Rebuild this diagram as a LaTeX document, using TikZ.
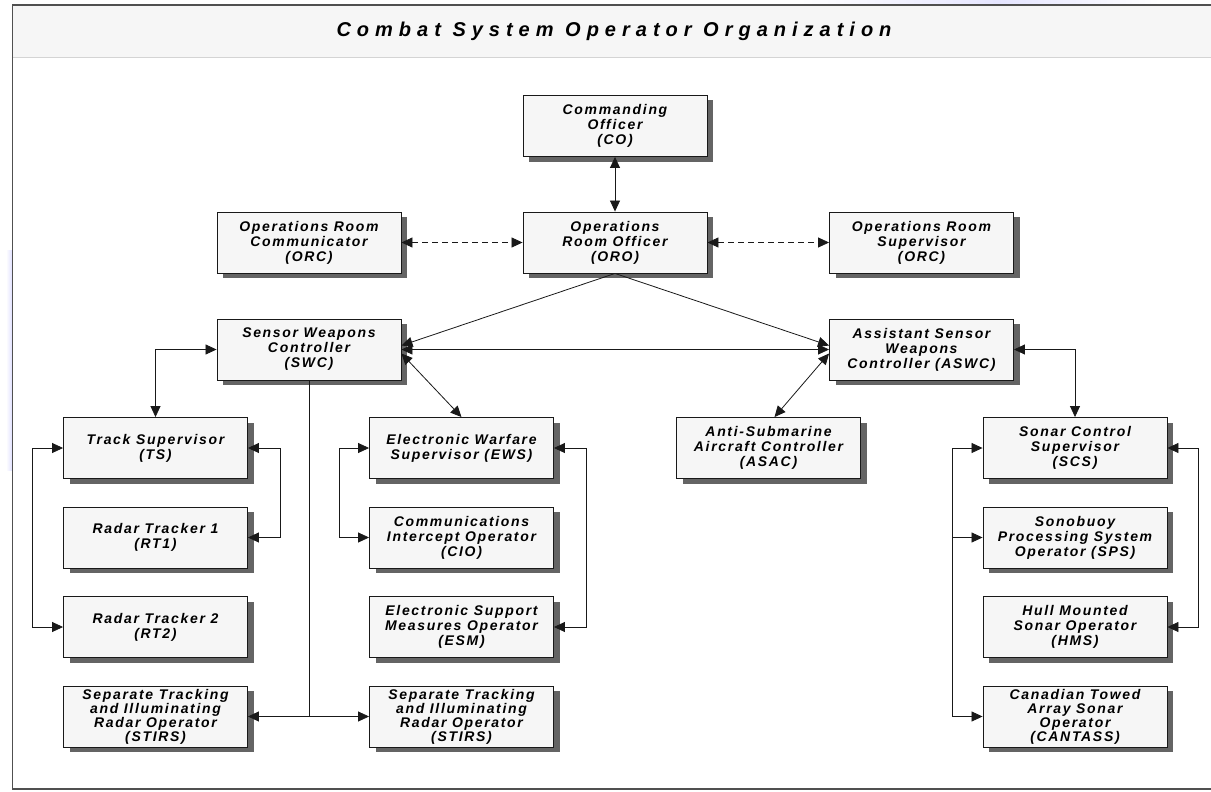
\documentclass[tikz,border=0pt]{standalone}
\usepackage{fontspec}
\setmainfont{Liberation Sans}
\newfontfamily\boxfont{Liberation Sans}[LetterSpace=12]
\newfontfamily\titlefont{Liberation Sans}[LetterSpace=30]
\usetikzlibrary{arrows.meta,shadows}
\definecolor{boxfill}{HTML}{F6F6F6}
\definecolor{shadowcol}{HTML}{646464}
\definecolor{framecol}{HTML}{505050}
\definecolor{titlebg}{HTML}{F6F6F6}
\definecolor{sepcol}{HTML}{D4D4D4}
\tikzset{
  orgbox/.style={draw=black!90, line width=0.9pt, fill=boxfill, minimum width=184pt, minimum height=61pt,
    inner sep=0pt, align=center, font=\boxfont\bfseries\itshape\fontsize{14}{15}\selectfont,
    general shadow={fill=shadowcol, shadow xshift=6pt, shadow yshift=-5pt}},
  tightbox/.style={orgbox, font=\boxfont\bfseries\itshape\fontsize{14}{14}\selectfont},
  arr/.style={line width=0.8pt, black!90, arrows={-Triangle[length=11pt,width=10pt]}},
  birr/.style={line width=0.8pt, black!90, arrows={Triangle[length=11pt,width=10pt]-Triangle[length=11pt,width=10pt]}}
}
\begin{document}
\begin{tikzpicture}[x=1pt,y=-1pt]
\useasboundingbox (0,0) rectangle (1211,792);
\fill[white] (0,0) rectangle (1211,792);
% faint decorations
\shade[left color=white, right color=blue!12] (6,250) rectangle (12,470);
\shade[left color=white, right color=blue!10] (800,0) rectangle (1000,5);
\shade[left color=blue!10, right color=white] (1000,0) rectangle (1160,5);
% title bar and frame
\fill[titlebg] (13,5) rectangle (1211,58);
\draw[sepcol, line width=1pt] (13,58) -- (1211,58);
\draw[framecol, line width=1.2pt] (1211,5) -- (12.5,5) -- (12.5,789) -- (1211,789);
\node[font=\titlefont\bfseries\itshape\fontsize{20}{24}\selectfont] (title) at (614,31) {Combat System Operator Organization};

% nodes
\node[orgbox] (co) at (615,126) {Commanding\\Officer\\(CO)};
\node[orgbox] (orc) at (309,242.5) {Operations Room\\Communicator\\(ORC)};
\node[orgbox] (oro) at (615,242.5) {Operations\\Room Officer\\(ORO)};
\node[orgbox] (ors) at (921.5,242.5) {Operations Room\\Supervisor\\(ORC)};
\node[orgbox] (swc) at (309,349.5) {Sensor Weapons\\Controller\\(SWC)};
\node[orgbox] (aswc) at (921.5,349.5) {Assistant Sensor\\Weapons\\Controller (ASWC)};
\node[orgbox] (ts) at (155.5,448) {Track Supervisor\\(TS)};
\node[orgbox] (rt1) at (155.5,537.5) {Radar Tracker 1\\(RT1)};
\node[orgbox] (rt2) at (155.5,627) {Radar Tracker 2\\(RT2)};
\node[tightbox] (stirsa) at (155.5,716.5) {Separate Tracking\\and Illuminating\\Radar Operator\\(STIRS)};
\node[orgbox] (ews) at (461.5,448) {Electronic Warfare\\Supervisor (EWS)};
\node[orgbox] (cio) at (461.5,537.5) {Communications\\Intercept Operator\\(CIO)};
\node[orgbox] (esm) at (461.5,627) {Electronic Support\\Measures Operator\\(ESM)};
\node[tightbox] (stirsb) at (461.5,716.5) {Separate Tracking\\and Illuminating\\Radar Operator\\(STIRS)};
\node[orgbox] (asac) at (768.5,448) {Anti-Submarine\\Aircraft Controller\\(ASAC)};
\node[orgbox] (scs) at (1075,448) {Sonar Control\\Supervisor\\(SCS)};
\node[orgbox] (sps) at (1075,537.5) {Sonobuoy\\Processing System\\Operator (SPS)};
\node[orgbox] (hms) at (1075,627) {Hull Mounted\\Sonar Operator\\(HMS)};
\node[tightbox] (cant) at (1075,716.5) {Canadian Towed\\Array Sonar\\Operator\\(CANTASS)};

% connectors
\draw[birr] (co) -- (oro);
\draw[birr, dash pattern=on 6pt off 4pt] (orc) -- (oro);
\draw[birr, dash pattern=on 6pt off 4pt] (oro) -- (ors);
\draw[arr] (oro.south) -- ([yshift=4pt]swc.east);
\draw[arr] (oro.south) -- ([yshift=4pt]aswc.west);
\draw[birr] (swc.east) -- (aswc.west);
\draw[birr] ([yshift=-4pt]swc.east) -- (ews.north);
\draw[birr] ([yshift=-4pt]aswc.west) -- ([xshift=6pt]asac.north);
\draw[birr] (swc.west) -| (ts.north);
\draw[birr] (aswc.east) -| (scs.north);
% left group
\draw[birr] (ts.west) -- ++(-31,0) |- (rt2.west);
\draw[birr] (ts.east) -- ++(32,0) |- (rt1.east);
\draw[arr] (swc.south) |- (stirsa.east);
\draw[arr] (swc.south) |- (stirsb.west);
% middle group
\draw[birr] (ews.west) -- ++(-30,0) |- (cio.west);
\draw[birr] (ews.east) -- ++(32,0) |- (esm.east);
% right group
\draw[birr] (scs.west) -- ++(-30,0) |- (cant.west);
\draw[arr] ([xshift=-30pt]scs.west) |- (sps.west);
\draw[birr] (scs.east) -- ++(31,0) |- (hms.east);
\end{tikzpicture}
\end{document}
